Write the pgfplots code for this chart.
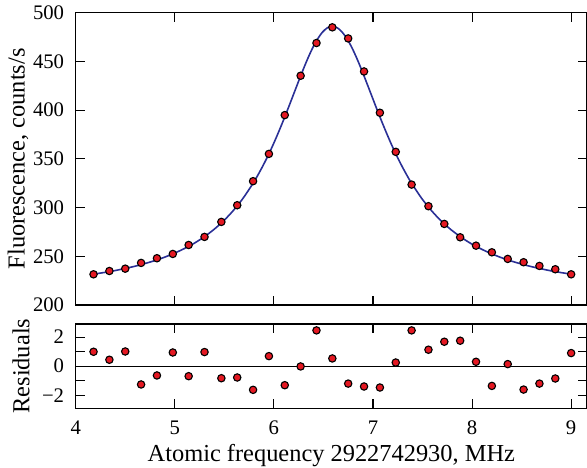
\documentclass[border=0pt]{standalone}
\usepackage{fontspec}
\setmainfont{Liberation Serif}
\newfontfamily\tickfont{Liberation Serif}
\usepackage{pgfplots}
\pgfplotsset{compat=1.18}
\definecolor{fitblue}{RGB}{42,48,150}
\definecolor{ptred}{RGB}{228,24,34}
\newcommand{\tl}[1]{\tickfont\fontsize{20.7}{24}\selectfont #1}
\begin{document}
\begin{tikzpicture}
\path[use as bounding box] (-75.7pt,-162pt) rectangle (511.3pt,305pt);
\pgfplotsset{
  common/.style={
    scale only axis, width=511.3pt,
    xmin=4, xmax=9.16,
    axis line style={line width=1.2pt},
    every tick/.style={black, line width=1.1pt},
    major tick length=9pt, minor tick length=9pt,
    tick align=inside,
    xtick={4,5,6,7,8,9},
    tick label style={font=\tickfont\fontsize{20.7}{24}\selectfont},
    label style={font=\tickfont\fontsize{24.4}{28}\selectfont},
    yticklabel style={anchor=east, inner sep=0pt, xshift=-11.4pt},
    xticklabel style={anchor=base, inner sep=0pt, yshift=-25.7pt},
  }
}
\begin{axis}[common,
  at={(0pt,0pt)}, anchor=south west,
  height=292.3pt,
  ymin=200, ymax=500,
  ytick={200,250,300,350,400,450,500},
  yticklabels={\tl{200},\tl{250},\tl{300},\tl{350},\tl{400},\tl{450},\tl{500}},
  xticklabels={},
  ylabel={Fluorescence, counts/s},
  ylabel style={at={(axis description cs:-0.113,0.5)}, anchor=center},
]
\addplot[fitblue, line width=1.6pt, smooth, no marks] coordinates {
(4.18,231.7) (4.29,233.4) (4.39,235.2) (4.49,237.3) (4.59,239.6) (4.69,242.3)
(4.79,245.3) (4.89,248.8) (4.99,252.9) (5.09,257.6) (5.19,263.0) (5.29,269.5)
(5.39,277.1) (5.49,286.1) (5.59,296.9) (5.69,309.7) (5.79,324.9) (5.84,333.6)
(5.89,343.0) (5.94,353.1) (5.99,364.0) (6.04,375.7) (6.09,388.0) (6.14,400.8)
(6.19,414.0) (6.24,427.2) (6.29,440.2) (6.34,452.5) (6.39,463.6) (6.44,472.9)
(6.49,480.0) (6.54,484.5) (6.59,486.0) (6.64,484.5) (6.69,480.0) (6.74,472.9)
(6.79,463.6) (6.84,452.5) (6.89,440.2) (6.94,427.2) (6.99,414.0) (7.04,400.8)
(7.09,388.0) (7.14,375.7) (7.19,364.0) (7.24,353.1) (7.29,343.0) (7.34,333.6)
(7.39,324.9) (7.49,309.7) (7.59,296.9) (7.69,286.1) (7.79,277.1) (7.89,269.5)
(7.99,263.0) (8.09,257.6) (8.19,252.9) (8.29,248.8) (8.39,245.3) (8.49,242.3)
(8.59,239.6) (8.69,237.3) (8.79,235.2) (8.89,233.4) (9.00,231.7)
};
\addplot[only marks, mark=*, mark size=3.7pt,
  mark options={fill=ptred, draw=black, line width=1.1pt}] coordinates {
(4.18,231.5) (4.34,234.9) (4.50,237.3) (4.66,243.2) (4.82,248.0) (4.98,252.4)
(5.14,261.6) (5.30,269.9) (5.47,285.3) (5.63,302.4) (5.79,327.1) (5.95,355.1)
(6.11,394.9) (6.27,435.3) (6.43,468.9) (6.59,485.0) (6.75,473.6) (6.91,439.7)
(7.07,397.3) (7.23,357.2) (7.39,323.6) (7.56,301.4) (7.72,283.2) (7.88,269.5)
(8.04,260.9) (8.20,254.1) (8.36,247.3) (8.52,243.9) (8.68,240.1) (8.84,236.7)
(9.00,231.5)
};
\end{axis}
\begin{axis}[common,
  at={(0pt,-19pt)}, anchor=north west,
  height=84.3pt,
  ymin=-2.9, ymax=2.9,
  ytick={-2,0,2}, yticklabels={\tl{−2},\tl{0},\tl{2}},
  minor ytick={-1,1},
  xticklabels={\tl{4},\tl{5},\tl{6},\tl{7},\tl{8},\tl{9}},
  xlabel={Atomic frequency 2922742930, MHz},
  xlabel style={at={(axis description cs:0.5,-0.637)}, anchor=base},
  ylabel={Residuals},
  ylabel style={at={(axis description cs:-0.107,0.5)}, anchor=center},
]
\addplot[black, line width=1.2pt, no marks] coordinates {(4,0) (9.16,0)};
\addplot[only marks, mark=*, mark size=3.7pt,
  mark options={fill=ptred, draw=black, line width=1.1pt}] coordinates {
(4.18,0.99) (4.34,0.44) (4.50,1.01) (4.66,-1.26) (4.82,-0.64) (4.98,0.94)
(5.14,-0.69) (5.30,0.97) (5.47,-0.83) (5.63,-0.78) (5.79,-1.63) (5.95,0.69)
(6.11,-1.31) (6.27,-0.02) (6.43,2.46) (6.59,0.53) (6.75,-1.20) (6.91,-1.40)
(7.07,-1.47) (7.23,0.25) (7.39,2.46) (7.56,1.13) (7.72,1.68) (7.88,1.75)
(8.04,0.30) (8.20,-1.36) (8.36,0.14) (8.52,-1.61) (8.68,-1.20) (8.84,-0.85)
(9.00,0.90)
};
\end{axis}
\end{tikzpicture}
\end{document}
